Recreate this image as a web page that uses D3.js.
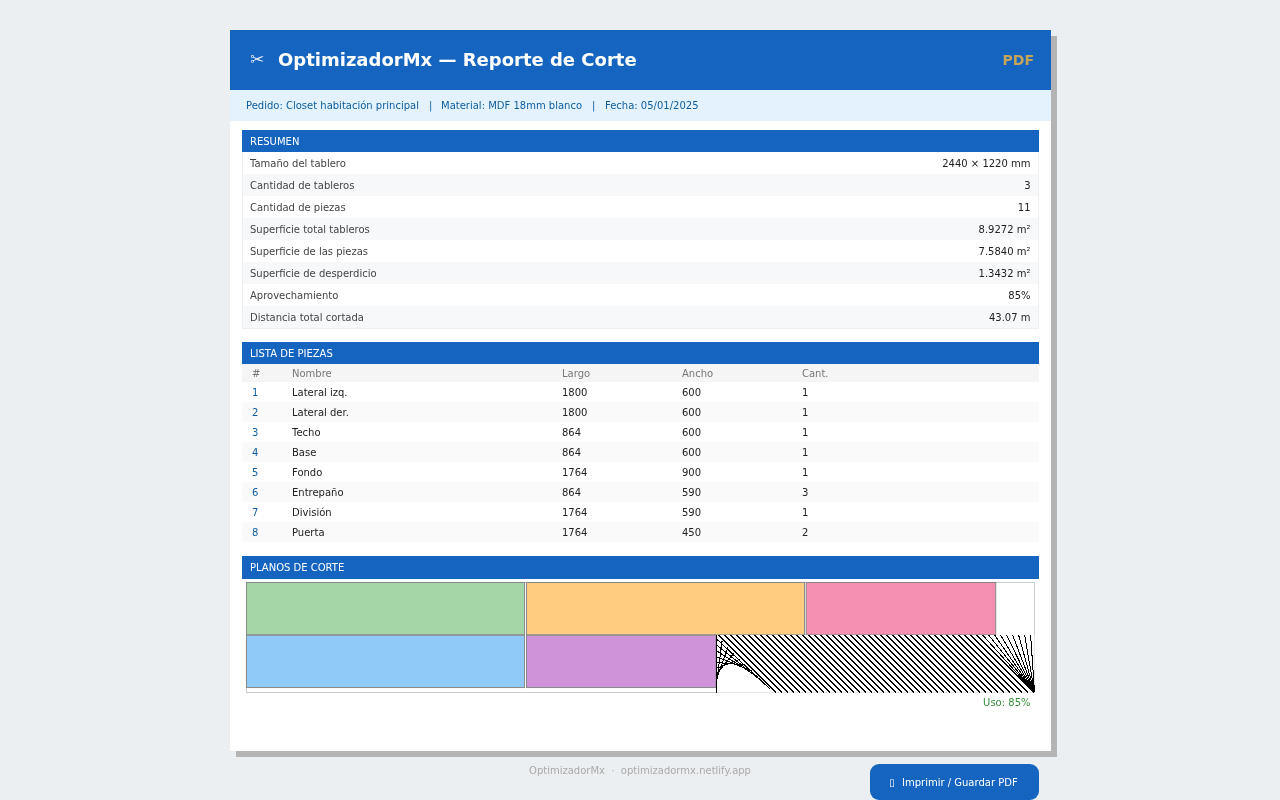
<!DOCTYPE html>
<html>
<head>
<meta charset="utf-8">
<title>OptimizadorMx</title>
<script src="https://cdn.jsdelivr.net/npm/d3@7"></script>
<style>
  html, body { margin: 0; padding: 0; background: #eceff1; overflow: hidden; }
  svg { display: block; will-change: transform; }
  text { font-family: "DejaVu Sans", sans-serif; }
</style>
</head>
<body>
<svg id="page" width="1280" height="800"></svg>
<script>
// Resumen
const summaryLabels = ["Tamaño del tablero", "Cantidad de tableros", "Cantidad de piezas", "Superficie total tableros",
  "Superficie de las piezas", "Superficie de desperdicio", "Aprovechamiento", "Distancia total cortada"];
const summaryValues = ["2440 × 1220 mm", "3", "11", "8.9272 m²", "7.5840 m²", "1.3432 m²", "85%", "43.07 m"];

// Lista de piezas
const pieceHeaders = ["#", "Nombre", "Largo", "Ancho", "Cant."];
const pieceNames = ["Lateral izq.", "Lateral der.", "Techo", "Base", "Fondo", "Entrepaño", "División", "Puerta"];
const pieceLargo = [1800, 1800, 864, 864, 1764, 864, 1764, 1764];
const pieceAncho = [600, 600, 600, 600, 900, 590, 590, 450];
const pieceCant = [1, 1, 1, 1, 1, 3, 1, 2];

// Plano de corte, in mm on the board
const boardW = 2440, boardH = 1220;
const cutX = [0, 867, 1733, 0, 867];
const cutY = [0, 0, 0, 585, 585];
const cutW = [861, 861, 587, 861, 587];
const cutH = [580, 580, 580, 580, 580];
const cutColors = ["#a5d6a7", "#ffcc80", "#f48fb1", "#90caf9", "#ce93d8"];
const wasteRect = [1454, 583, 986, 637]; // x, y, w, h
const hatchStep = 6;

const BLUE = "#1565c0";
const SUB_BLUE = "#0f5c9e";
const svg = d3.select("#page");

function rect(x, y, w, h, fill) {
  return svg.append("rect").attr("x", x).attr("y", y).attr("width", w).attr("height", h).attr("fill", fill);
}
function label(x, y, str, size, fill, anchor) {
  return svg.append("text").attr("x", x).attr("y", y).attr("font-size", size).attr("fill", fill)
    .attr("text-anchor", anchor || "start").text(str);
}
function sectionBar(y, h, str) {
  rect(242, y, 797, h, BLUE);
  label(250, y + h / 2 + 3.5, str, 10, "#fff");
}

// card + hard shadow
rect(236, 36, 821, 721, "#b4b4b4");
rect(230, 30, 821, 721, "#fff");

// header
rect(230, 30, 821, 60, BLUE);
label(250, 65, "✂", 17, "#e3e8f0");
label(278, 66, "OptimizadorMx — Reporte de Corte", 18, "#fff").attr("font-weight", "bold");
label(1034, 65, "PDF", 14, "#c4a35a", "end").attr("font-weight", "bold");

// sub header
rect(230, 90, 821, 31, "#e3f2fd");
label(246, 109, "Pedido: Closet habitación principal", 10, SUB_BLUE);
label(429, 109, "|", 10, SUB_BLUE);
label(441, 109, "Material: MDF 18mm blanco", 10, SUB_BLUE);
label(592, 109, "|", 10, SUB_BLUE);
label(605, 109, "Fecha: 05/01/2025", 10, SUB_BLUE);

// resumen
const summaryY = d3.scaleBand().domain(d3.range(summaryLabels.length)).range([152, 328]);
svg.append("g").selectAll("rect").data(summaryLabels).join("rect")
  .attr("x", 242).attr("width", 797)
  .attr("y", (d, i) => summaryY(i)).attr("height", summaryY.bandwidth())
  .attr("fill", (d, i) => i % 2 ? "#f7f8fa" : "#fff");
svg.append("rect").attr("x", 242.5).attr("y", 151.5).attr("width", 796).attr("height", 177)
  .attr("fill", "none").attr("stroke", "#eceef0");
sectionBar(130, 22, "RESUMEN");
summaryLabels.forEach((d, i) => {
  const y = summaryY(i) + 15;
  label(250, y, d, 10, "#444");
  label(1030.5, y, summaryValues[i], 10, "#222", "end");
});

// lista de piezas
sectionBar(342, 22, "LISTA DE PIEZAS");
rect(242, 364, 797, 18, "#f5f5f5");
const colX = [252, 292, 562, 682, 802];
pieceHeaders.forEach((d, i) => label(colX[i], 377, d, 10, "#777"));
const pieceY = d3.scaleBand().domain(d3.range(pieceNames.length)).range([382, 542]);
svg.append("g").selectAll("rect").data(pieceNames).join("rect")
  .attr("x", 242).attr("width", 797)
  .attr("y", (d, i) => pieceY(i)).attr("height", pieceY.bandwidth())
  .attr("fill", (d, i) => i % 2 ? "#fafafa" : "#fff");
pieceNames.forEach((d, i) => {
  const y = pieceY(i) + 14;
  label(colX[0], y, i + 1, 10, SUB_BLUE);
  label(colX[1], y, d, 10, "#222");
  label(colX[2], y, pieceLargo[i], 10, "#222");
  label(colX[3], y, pieceAncho[i], 10, "#222");
  label(colX[4], y, pieceCant[i], 10, "#222");
});

// planos de corte
sectionBar(556, 23, "PLANOS DE CORTE");
const xMm = d3.scaleLinear().domain([0, boardW]).range([246.5, 1034.5]);
const yMm = d3.scaleLinear().domain([0, boardH]).range([582.5, 692.5]);
svg.append("rect").attr("x", xMm(0)).attr("y", yMm(0))
  .attr("width", xMm(boardW) - xMm(0)).attr("height", yMm(boardH) - yMm(0))
  .attr("fill", "#fff").attr("stroke", "#ccc");
svg.append("g").selectAll("rect").data(cutColors).join("rect")
  .attr("x", (d, i) => xMm(cutX[i]))
  .attr("y", (d, i) => yMm(cutY[i]))
  .attr("width", (d, i) => xMm(cutX[i] + cutW[i]) - xMm(cutX[i]))
  .attr("height", (d, i) => yMm(cutY[i] + cutH[i]) - yMm(cutY[i]))
  .attr("fill", d => d).attr("stroke", "#888");

// waste hatch: both ends get clamped separately, that gives the fan and the curve
const wx = xMm(wasteRect[0]), wy = yMm(wasteRect[1]);
const ww = xMm(wasteRect[0] + wasteRect[2]) - wx, wh = yMm(wasteRect[1] + wasteRect[3]) - wy;
svg.append("rect").attr("x", wx).attr("y", wy).attr("width", ww).attr("height", wh).attr("fill", "#fff");
const hatch = d3.path();
for (let i = -wh; i < ww; i += hatchStep) {
  hatch.moveTo(wx + Math.max(0, i), wy + Math.max(0, -i));
  hatch.lineTo(wx + Math.min(ww, i + wh), wy + Math.min(wh, i + wh));
}
svg.append("path").attr("d", hatch.toString()).attr("fill", "none")
  .attr("stroke", "#000").attr("stroke-width", 1).attr("shape-rendering", "crispEdges");

label(1030.5, 706, "Uso: 85%", 10, "#388e3c", "end");

// footer
label(640, 774, "OptimizadorMx  ·  optimizadormx.netlify.app", 10, "#aaa", "middle").attr("xml:space", "preserve");
svg.append("rect").attr("x", 870).attr("y", 764).attr("width", 169).attr("height", 36).attr("rx", 9).attr("fill", BLUE);
label(889, 786, "▯", 10, "#fff");
label(902, 786, "Imprimir / Guardar PDF", 10, "#fff");
</script>
</body>
</html>
